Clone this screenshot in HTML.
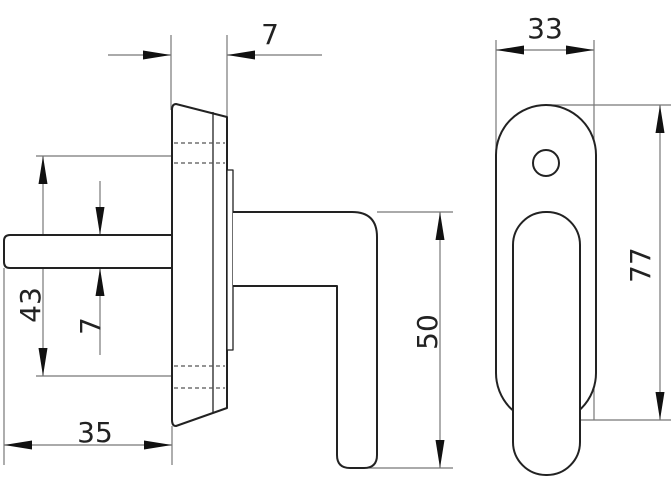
<!DOCTYPE html>
<html><head><meta charset="utf-8"><style>
html,body{margin:0;padding:0;background:#fff;}
svg{display:block;}
text{font-family:"DejaVu Sans","Liberation Sans",sans-serif;fill:#222;}
</style></head><body>
<svg width="671" height="480" viewBox="0 0 671 480" xmlns="http://www.w3.org/2000/svg">
<defs>
<marker id="a" viewBox="0 0 28 10" refX="28" refY="5" markerWidth="28" markerHeight="10" markerUnits="userSpaceOnUse" orient="auto"><path d="M0,0.5 L28,5 L0,9.5 Z" fill="#111"/></marker>
</defs>
<g stroke="#777" stroke-width="1.2" fill="none">
<line x1="171" y1="35" x2="171" y2="110"/>
<line x1="227" y1="35" x2="227" y2="120"/>
<line x1="108" y1="55" x2="171" y2="55" marker-end="url(#a)"/>
<line x1="322" y1="55" x2="227" y2="55" marker-end="url(#a)"/>
<line x1="36" y1="156" x2="172" y2="156"/>
<line x1="36" y1="376" x2="172" y2="376"/>
<line x1="43" y1="270" x2="43" y2="156" marker-end="url(#a)"/>
<line x1="43" y1="270" x2="43" y2="376" marker-end="url(#a)"/>
<line x1="100" y1="181" x2="100" y2="235" marker-end="url(#a)"/>
<line x1="100" y1="355" x2="100" y2="268" marker-end="url(#a)"/>
<line x1="4" y1="268" x2="4" y2="465"/>
<line x1="172" y1="426" x2="172" y2="465"/>
<line x1="90" y1="445" x2="4" y2="445" marker-end="url(#a)"/>
<line x1="90" y1="445" x2="172" y2="445" marker-end="url(#a)"/>
<line x1="377" y1="212" x2="453" y2="212"/>
<line x1="360" y1="468" x2="453" y2="468"/>
<line x1="440" y1="340" x2="440" y2="212" marker-end="url(#a)"/>
<line x1="440" y1="340" x2="440" y2="468" marker-end="url(#a)"/>
<line x1="496" y1="40" x2="496" y2="150"/>
<line x1="594" y1="40" x2="594" y2="420"/>
<line x1="545" y1="50" x2="496" y2="50" marker-end="url(#a)"/>
<line x1="545" y1="50" x2="594" y2="50" marker-end="url(#a)"/>
<line x1="546" y1="105" x2="671" y2="105"/>
<line x1="580" y1="420" x2="671" y2="420"/>
<line x1="660" y1="260" x2="660" y2="105" marker-end="url(#a)"/>
<line x1="660" y1="260" x2="660" y2="420" marker-end="url(#a)"/>
</g>
<g stroke="#222" stroke-width="2" fill="#fff" stroke-linejoin="round">
<path d="M172,235 L10,235 Q4,235 4,241 L4,262 Q4,268 10,268 L172,268"/>
<path d="M176,104 L227,117 L227,408 L176,426 Q172,426 172,420 L172,110 Q172,104 176,104 Z"/>
<line x1="213" y1="112" x2="213" y2="412" stroke-width="1.3"/>
<rect x="227" y="170" width="6" height="180" stroke-width="1.3"/>
<path d="M233,212 L352,212 Q377,212 377,237 L377,455 Q377,468 364,468 L350,468 Q337,468 337,455 L337,286 L233,286" fill="#fff"/>
<rect x="496" y="105" width="100" height="318" rx="50" ry="50"/>
<circle cx="546" cy="163" r="13"/>
<rect x="513" y="212" width="67" height="263" rx="33" ry="33"/>
</g>
<g stroke="#555" stroke-width="1.3" stroke-dasharray="4,3">
<line x1="174" y1="143" x2="225" y2="143"/>
<line x1="174" y1="163" x2="225" y2="163"/>
<line x1="174" y1="366" x2="225" y2="366"/>
<line x1="174" y1="388" x2="225" y2="388"/>
</g>
<text x="270" y="44" font-size="28" text-anchor="middle">7</text>
<text x="95" y="442" font-size="28" text-anchor="middle">35</text>
<text x="545" y="38" font-size="28" text-anchor="middle">33</text>
<text transform="translate(40,305) rotate(-90)" font-size="28" text-anchor="middle">43</text>
<text transform="translate(100,326) rotate(-90)" font-size="28" text-anchor="middle">7</text>
<text transform="translate(437,332) rotate(-90)" font-size="28" text-anchor="middle">50</text>
<text transform="translate(650,265) rotate(-90)" font-size="28" text-anchor="middle">77</text>
</svg>
</body></html>
